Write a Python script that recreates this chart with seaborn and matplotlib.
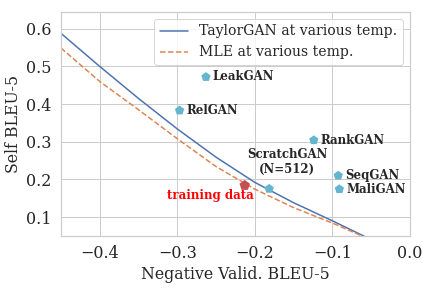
import numpy as np
import pandas as pd
import matplotlib
matplotlib.use("Agg")
import matplotlib.pyplot as plt
import seaborn as sns

# curves (temperature sweeps)
taylor_x = [-0.45, -0.40, -0.35, -0.30, -0.25, -0.20, -0.15, -0.10, -0.06, -0.05]
taylor_y = [0.588, 0.500, 0.415, 0.334, 0.259, 0.192, 0.138, 0.090, 0.050, 0.040]
mle_x = [-0.45, -0.40, -0.35, -0.30, -0.25, -0.20, -0.15, -0.10, -0.06, -0.05]
mle_y = [0.549, 0.460, 0.385, 0.308, 0.234, 0.174, 0.125, 0.084, 0.048, 0.040]

# other models
model_names = ["LeakGAN", "RelGAN", "RankGAN", "SeqGAN", "MaliGAN", "ScratchGAN\n(N=512)"]
model_x = [-0.263, -0.297, -0.124, -0.0925, -0.091, -0.1815]
model_y = [0.472, 0.383, 0.304, 0.210, 0.174, 0.175]

train_x = [-0.213]
train_y = [0.184]

sns.set_theme(style="whitegrid", font="DejaVu Serif")
plt.rcParams["font.family"] = ["DejaVu Serif"]

fig = plt.figure(figsize=(6, 4), dpi=72)
ax = fig.add_axes([0.141, 0.181, 0.808, 0.778])

pal = sns.color_palette("deep")
sns.lineplot(x=taylor_x, y=taylor_y, ax=ax, color=pal[0], lw=1.5,
             label="TaylorGAN at various temp.")
sns.lineplot(x=mle_x, y=mle_y, ax=ax, color=pal[1], lw=1.5, linestyle="--",
             label="MLE at various temp.")

sns.scatterplot(x=model_x, y=model_y, ax=ax, marker="p", s=95, color=pal[9],
                edgecolor="none", zorder=5)
sns.scatterplot(x=train_x, y=train_y, ax=ax, marker="p", s=120, color=pal[3],
                edgecolor="none", zorder=5)

for name, x, y in zip(model_names, model_x, model_y):
    if name.startswith("ScratchGAN"):
        ax.annotate(name, (x, y), xytext=(18, 27), textcoords="offset points",
                    ha="center", va="center", fontsize=11.8, fontweight="bold")
    else:
        ax.annotate(name, (x, y), xytext=(7, 0), textcoords="offset points",
                    ha="left", va="center", fontsize=11.8, fontweight="bold")
ax.annotate("training data", (train_x[0], train_y[0]), xytext=(-34, -10),
            textcoords="offset points", ha="center", va="center",
            fontsize=11.8, fontweight="bold", color="red")

ax.set_xlim(-0.45, 0.0)
ax.set_ylim(0.05, 0.645)
ax.set_xlabel("Negative Valid. BLEU-5", fontsize=15.7)
ax.set_ylabel("Self BLEU-5", fontsize=15.7)
ax.tick_params(labelsize=16)
ax.legend(loc="upper right", fontsize=14)

fig.savefig("out.png", dpi=72)
